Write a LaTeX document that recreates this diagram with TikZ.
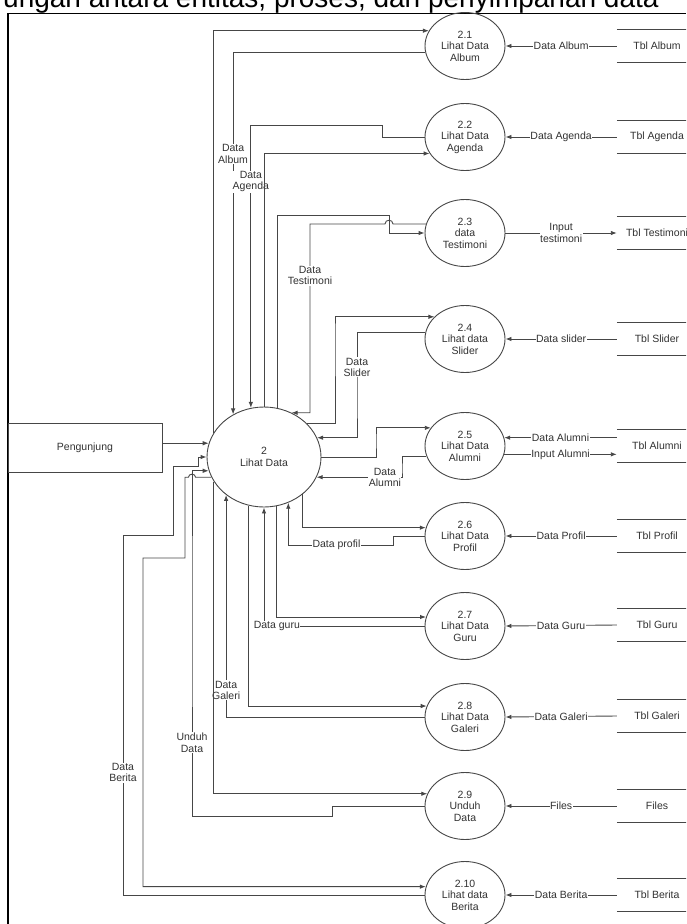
\documentclass[tikz,border=0pt]{standalone}
\usepackage{fontspec}
\setmainfont{Liberation Sans}
\usetikzlibrary{arrows.meta,shapes.geometric}
\definecolor{linegray}{RGB}{70,70,70}
\definecolor{textgray}{RGB}{50,50,50}
\newcommand{\dfdfont}{\fontsize{10.5}{11.5}\selectfont}
\tikzset{>={Latex[length=6pt,width=4.5pt]}}
\tikzset{
  proses/.style={ellipse,draw=linegray,line width=0.9pt,minimum width=80pt,
    minimum height=67pt,inner sep=0pt,align=center,text=textgray,font=\dfdfont},
  simpan/.style={minimum width=80pt,minimum height=33pt,inner sep=0pt,
    text=textgray,font=\dfdfont},
  alir/.style={draw=linegray,line width=0.9pt},
  ket/.style={fill=white,inner sep=0.5pt,align=center,text=textgray,font=\dfdfont}
}

\begin{document}
\begin{tikzpicture}[x=1pt,y=-1pt]
  \useasboundingbox (0,0) rectangle (686,924);
  \clip (0,0) rectangle (686,924);
  \node[anchor=base west,inner sep=0pt,font=\fontsize{28}{30}\selectfont] (judul) at (3,7)
    {ungan antara entitas, proses, dan penyimpanan data};
  \draw[line width=1.4pt] (8,924) -- (8,13.5) -- (686,13.5);

  \node[draw=linegray,line width=0.9pt,minimum width=154pt,minimum height=49pt,
    text=textgray,font=\dfdfont] (peng) at (85,447.5) {Pengunjung};
  \node[proses,minimum width=114pt,minimum height=100pt] (main) at (264,457) {2\\Lihat Data};

  \foreach \n/\y/\t in {21/46/{2.1\\Lihat Data\\Album},22/137/{2.2\\Lihat Data\\Agenda},
      23/233/{2.3\\data\\Testimoni},24/339/{2.4\\Lihat data\\Slider},
      25/446/{2.5\\Lihat Data\\Alumni},26/536/{2.6\\Lihat Data\\Profil},
      27/626/{2.7\\Lihat Data\\Guru},28/717/{2.8\\Lihat Data\\Galeri},
      29/806/{2.9\\Unduh\\Data},210/895/{2.10\\Lihat data\\Berita}}
    \node[proses] (p\n) at (465,\y) {\t};

  \foreach \n/\y/\t in {21/46/Tbl Album,22/137/Tbl Agenda,23/233/Tbl Testimoni,
      24/339/Tbl Slider,25/446/Tbl Alumni,26/536/Tbl Profil,27/625/Tbl Guru,
      28/716/Tbl Galeri,29/806/Files,210/895/Tbl Berita}{
    \node[simpan] (s\n) at (657,\y) {\t};
    \draw[alir] (s\n.north west) -- (s\n.north east) (s\n.south west) -- (s\n.south east);
  }

  % tabel ke proses
  \draw[alir,->] (s21.west) -- node[ket]{Data Album} (p21.east);
  \draw[alir,->] (s22.west) -- node[ket]{Data Agenda} (p22.east);
  \draw[alir,->] (p23.east) -- node[ket]{Input\\testimoni} (s23.west);
  \draw[alir,->] (s24.west) -- node[ket]{Data slider} (p24.east);
  \draw[alir,->] (p25.12 -| s25.west) -- node[ket]{Data Alumni} (p25.12);
  \draw[alir,->] (p25.348) -- node[ket]{Input Alumni} (p25.348 -| s25.west);
  \draw[alir,->] (s26.west) -- node[ket]{Data Profil} (p26.east);
  \draw[alir,->] (s27.west) -- node[ket]{Data Guru} (p27.east);
  \draw[alir,->] (s28.west) -- node[ket]{Data Galeri} (p28.east);
  \draw[alir,->] (s29.west) -- node[ket]{Files} (p29.east);
  \draw[alir,->] (s210.west) -- node[ket]{Data Berita} (p210.east);

  \draw[alir,->] (peng.east |- main.166) -- (main.166);

  \coordinate (hopA) at (393,0);
  \coordinate (hopB) at (195.5,0);

  % proses 2 dan sub proses
  \draw[alir,->] (main.154) |- (p21.157);
  \draw[alir,->] (p21.189) -| node[ket,pos=0.64]{Data\\Album} (main.126);
  \draw[alir,->] (p22.west) -| (382,125) -| node[ket,pos=0.6]{Data\\Agenda} (main.105);
  \draw[alir,->] (main.90) |- (p22.205);
  \draw[alir,->] (main.75) |- (389,215) |- (p23.west);
  \draw[alir,->] (p23.167) -- (p23.167 -| hopA) .. controls +(0,-5) and +(0,-5) .. ++(-8,0)
    -| node[ket,pos=0.84]{Data\\Testimoni} (310,300) |- (main.58);
  \draw[alir,->] (main.38) -| (335,330) |- (p24.144);
  \draw[alir,->] (p24.170) -| node[ket,pos=0.76]{Data\\Slider} (357,400) |- (main.20);
  \draw[alir,->] (main.east) -| (376,440) |- (p25.152);
  \draw[alir,->] (p25.195) -| (402,470) |- node[ket,pos=0.6]{Data\\Alumni} (main.339);
  \draw[alir,->] (main.316) |- (p26.168);
  \draw[alir,->] (p26.west) -| (393,545) -| node[ket,pos=0.27]{Data profil} (main.298);
  \draw[alir,->] (main.284) |- (p27.167);
  \draw[alir,->] (p27.west) -| node[ket,pos=0.46]{Data guru} (main.south);
  \draw[alir,->] (main.252) |- (p28.164);
  \draw[alir,->] (p28.west) -| node[ket,pos=0.56]{Data\\Galeri} (main.225);
  \draw[alir,->] (main.206) |- (p29.162);
  \draw[alir,->] (p29.west) -| (332,816) -| node[ket,pos=0.67]{Unduh\\Data} (192,600) |- (main.194);
  \draw[alir,->] (main.201) -- (main.201 -| hopB) .. controls +(0,-4) and +(0,-4) .. ++(-7,0)
    -| (185,558) -| (143,700) |- (p210.168);
  \draw[alir,->] (p210.west) -| node[ket,pos=0.67]{Data\\Berita} (123,535) -| (173,466)
    -| (198,457) -- (main.west);
\end{tikzpicture}
\end{document}
